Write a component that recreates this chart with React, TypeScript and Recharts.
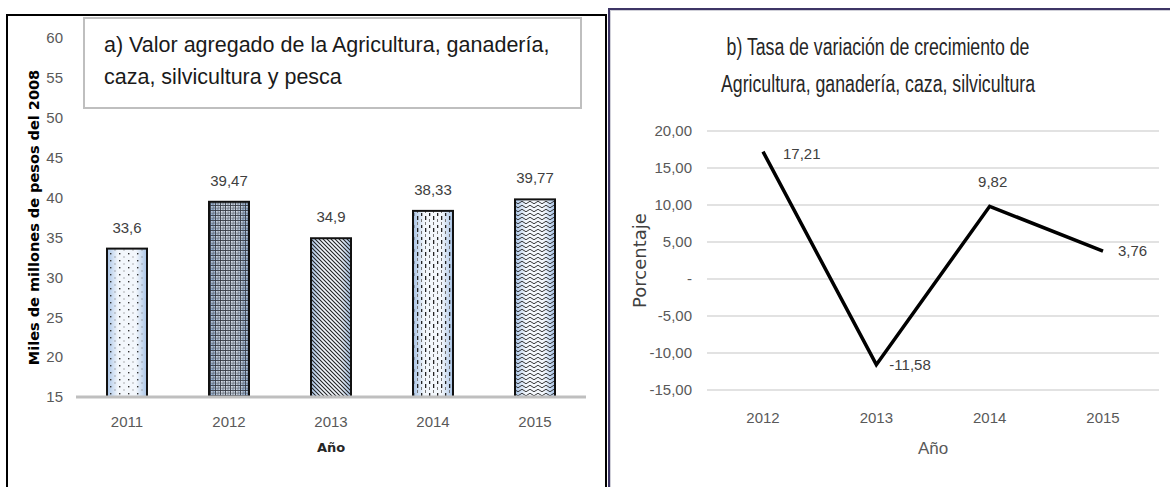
import React from "react";
import { Bar, BarChart, CartesianGrid, LabelList, Line, LineChart, XAxis, YAxis } from "recharts";

// a) valor agregado (miles de millones de pesos del 2008)
const years = ["2011", "2012", "2013", "2014", "2015"];
const valorAgregado = [33.6, 39.47, 34.9, 38.33, 39.77];
const valorTicks = [15, 20, 25, 30, 35, 40, 45, 50, 55, 60];

// b) tasa de variación (%)
const rateYears = ["2012", "2013", "2014", "2015"];
const tasaVariacion = [17.21, -11.58, 9.82, 3.76];
const rateTicks = [-15, -10, -5, 0, 5, 10, 15, 20];

const barData = years.map((year, i) => ({ year, valor: valorAgregado[i] }));
const lineData = rateYears.map((year, i) => ({ year, tasa: tasaVariacion[i] }));

const narrow = "'Liberation Sans Narrow', 'Liberation Sans', Arial, sans-serif";
const wide = "'DejaVu Sans', Verdana, sans-serif";

const comma = (v: number) => String(v).replace(".", ",");
const rateTick = (v: number) => (v === 0 ? "-" : v.toFixed(2).replace(".", ","));

// label placement for the line points: dx, dy, anchor
const rateLabelPos: [number, number, string][] = [
  [20, 3, "start"],
  [13, 1, "start"],
  [3, -23, "middle"],
  [15, 1, "start"],
];

function PatternBar(props: any) {
  const { x, y, width, height, index } = props;
  return (
    <g>
      <rect x={x} y={y} width={width} height={height} fill={index === 1 ? "url(#barGradDark)" : "url(#barGrad)"} />
      <rect x={x} y={y} width={width} height={height} fill={`url(#pat${index})`} />
      <rect x={x} y={y} width={width} height={height} fill="none" stroke="#111" strokeWidth={2} />
    </g>
  );
}

function RateLabel(props: any) {
  const { x, y, value, index } = props;
  const [dx, dy, anchor] = rateLabelPos[index] || [10, 0, "start"];
  return (
    <text
      x={x + dx}
      y={y + dy}
      textAnchor={anchor as any}
      dominantBaseline="middle"
      fontSize={15}
      fontFamily={narrow}
      fill="#404040"
    >
      {comma(value)}
    </text>
  );
}

export default function App() {
  return (
    <div
      style={{
        position: "absolute",
        left: 0,
        top: 0,
        width: 1170,
        height: 487,
        background: "#fff",
        overflow: "hidden",
        fontFamily: narrow,
      }}
    >
      {/* panel frames */}
      <div
        style={{
          position: "absolute",
          left: 6,
          top: 14,
          width: 597,
          height: 490,
          border: "2px solid #000",
        }}
      />
      <div
        style={{
          position: "absolute",
          left: 608,
          top: 8,
          width: 580,
          height: 500,
          border: "2px solid #3d3566",
          boxShadow: "inset 1px 1px 0 #cfcfd8",
        }}
      />

      <div style={{ position: "absolute", left: 0, top: 0 }}>
        <BarChart width={610} height={487} data={barData} margin={{ top: 38, right: 24, bottom: 60, left: 16 }}>
          <defs>
            <linearGradient id="barGrad" x1="0" y1="0" x2="1" y2="0">
              <stop offset="0%" stopColor="#a7c3e6" />
              <stop offset="28%" stopColor="#f3f7fc" />
              <stop offset="72%" stopColor="#f3f7fc" />
              <stop offset="100%" stopColor="#a7c3e6" />
            </linearGradient>
            <linearGradient id="barGradDark" x1="0" y1="0" x2="1" y2="0">
              <stop offset="0%" stopColor="#8eaed6" />
              <stop offset="30%" stopColor="#c8d3e2" />
              <stop offset="70%" stopColor="#c8d3e2" />
              <stop offset="100%" stopColor="#8eaed6" />
            </linearGradient>
            <pattern id="pat0" width="9" height="7" patternUnits="userSpaceOnUse">
              <rect x="2" y="1" width="1.4" height="1.4" fill="#333" />
              <rect x="6.5" y="4.5" width="1" height="1" fill="#666" />
            </pattern>
            <pattern id="pat1" width="5" height="5" patternUnits="userSpaceOnUse">
              <path d="M0,0.5 H5 M0.5,0 V5" stroke="#30343c" strokeWidth="1" strokeOpacity="0.85" />
              <path d="M0,3 H5 M3,0 V5" stroke="#4a505a" strokeWidth="0.9" strokeOpacity="0.7" />
              <rect x="1.5" y="1.5" width="1" height="1" fill="#fff" />
            </pattern>
            <pattern id="pat2" width="4" height="4" patternUnits="userSpaceOnUse">
              <path d="M-1,-1 L5,5 M-1,3 L1,5 M3,-1 L5,1" stroke="#222" strokeWidth="1.1" />
            </pattern>
            <pattern id="pat3" width="8" height="12" patternUnits="userSpaceOnUse">
              <rect x="1" y="0" width="1.3" height="4" fill="#222" />
              <rect x="1" y="6" width="1" height="3" fill="#777" />
              <rect x="5" y="3" width="1" height="3" fill="#777" />
              <rect x="5" y="9" width="1.3" height="4" fill="#222" />
            </pattern>
            <pattern id="pat4" width="8" height="4" patternUnits="userSpaceOnUse">
              <path d="M0,2.5 Q2,0 4,2.5 T8,2.5" fill="none" stroke="#222" strokeWidth="0.9" />
            </pattern>
          </defs>
          <XAxis
            dataKey="year"
            height={30}
            tickSize={0}
            tickMargin={19}
            axisLine={{ stroke: "#bfbfbf", strokeWidth: 3 }}
            tickLine={false}
            tick={{ fill: "#595959", fontSize: 15, fontFamily: narrow }}
            label={{
              value: "Año",
              position: "bottom",
              offset: 16,
              fill: "#262626",
              fontSize: 13,
              fontWeight: 700,
              fontFamily: wide,
            }}
          />
          <YAxis
            width={60}
            domain={[15, 60]}
            ticks={valorTicks}
            interval={0}
            tickSize={0}
            tickMargin={13}
            axisLine={false}
            tickLine={false}
            tick={{ fill: "#595959", fontSize: 15, fontFamily: narrow }}
            label={{
              value: "Miles de millones de pesos del 2008",
              angle: -90,
              position: "center",
              dx: -12,
              fill: "#000",
              fontSize: 14.5,
              fontWeight: 700,
              fontFamily: wide,
            }}
          />
          <Bar dataKey="valor" barSize={40} shape={PatternBar} isAnimationActive={false}>
            <LabelList
              dataKey="valor"
              position="top"
              offset={16}
              formatter={(v: any) => comma(v)}
              fill="#404040"
              fontSize={15}
              fontFamily={narrow}
            />
          </Bar>
        </BarChart>
      </div>

      {/* title box a) */}
      <div
        style={{
          position: "absolute",
          left: 83,
          top: 17,
          width: 495,
          height: 88,
          border: "2px solid #bfbfbf",
          background: "#fff",
        }}
      />
      <div
        style={{
          position: "absolute",
          left: 104,
          top: 29,
          fontSize: 21.5,
          lineHeight: "32px",
          color: "#1a1a1a",
          whiteSpace: "nowrap",
        }}
      >
        a) Valor agregado de la Agricultura, ganadería,
        <br />
        caza, silvicultura y pesca
      </div>

      <div style={{ position: "absolute", left: 610, top: 0 }}>
        <LineChart width={560} height={487} data={lineData} margin={{ top: 131, right: 11, bottom: 67, left: 37 }}>
          <CartesianGrid vertical={false} stroke="#d9d9d9" strokeWidth={1.5} />
          <XAxis
            dataKey="year"
            height={30}
            padding={{ left: 56, right: 56 }}
            tickSize={0}
            tickMargin={22}
            axisLine={false}
            tickLine={false}
            tick={{ fill: "#595959", fontSize: 15, fontFamily: narrow }}
            label={{
              value: "Año",
              position: "bottom",
              offset: 22,
              fill: "#595959",
              fontSize: 17,
              fontFamily: narrow,
            }}
          />
          <YAxis
            width={60}
            domain={[-15, 20]}
            ticks={rateTicks}
            interval={0}
            tickSize={0}
            tickMargin={15}
            axisLine={false}
            tickLine={false}
            tickFormatter={rateTick}
            tick={{ fill: "#595959", fontSize: 15, fontFamily: narrow }}
            label={{
              value: "Porcentaje",
              angle: -90,
              position: "center",
              dx: -37,
              fill: "#404040",
              fontSize: 18,
              fontFamily: wide,
            }}
          />
          <Line
            type="linear"
            dataKey="tasa"
            stroke="#000"
            strokeWidth={3.5}
            dot={false}
            activeDot={false}
            isAnimationActive={false}
          >
            <LabelList dataKey="tasa" content={RateLabel} />
          </Line>
        </LineChart>
      </div>

      {/* title b) */}
      <div
        style={{
          position: "absolute",
          left: 610,
          width: 536,
          top: 29,
          fontSize: 23,
          lineHeight: "37px",
          color: "#262626",
          textAlign: "center",
          whiteSpace: "nowrap",
          transform: "scaleX(0.77)",
          transformOrigin: "268px 0",
        }}
      >
        b) Tasa de variación de crecimiento de
        <br />
        Agricultura, ganadería, caza, silvicultura
      </div>
    </div>
  );
}
